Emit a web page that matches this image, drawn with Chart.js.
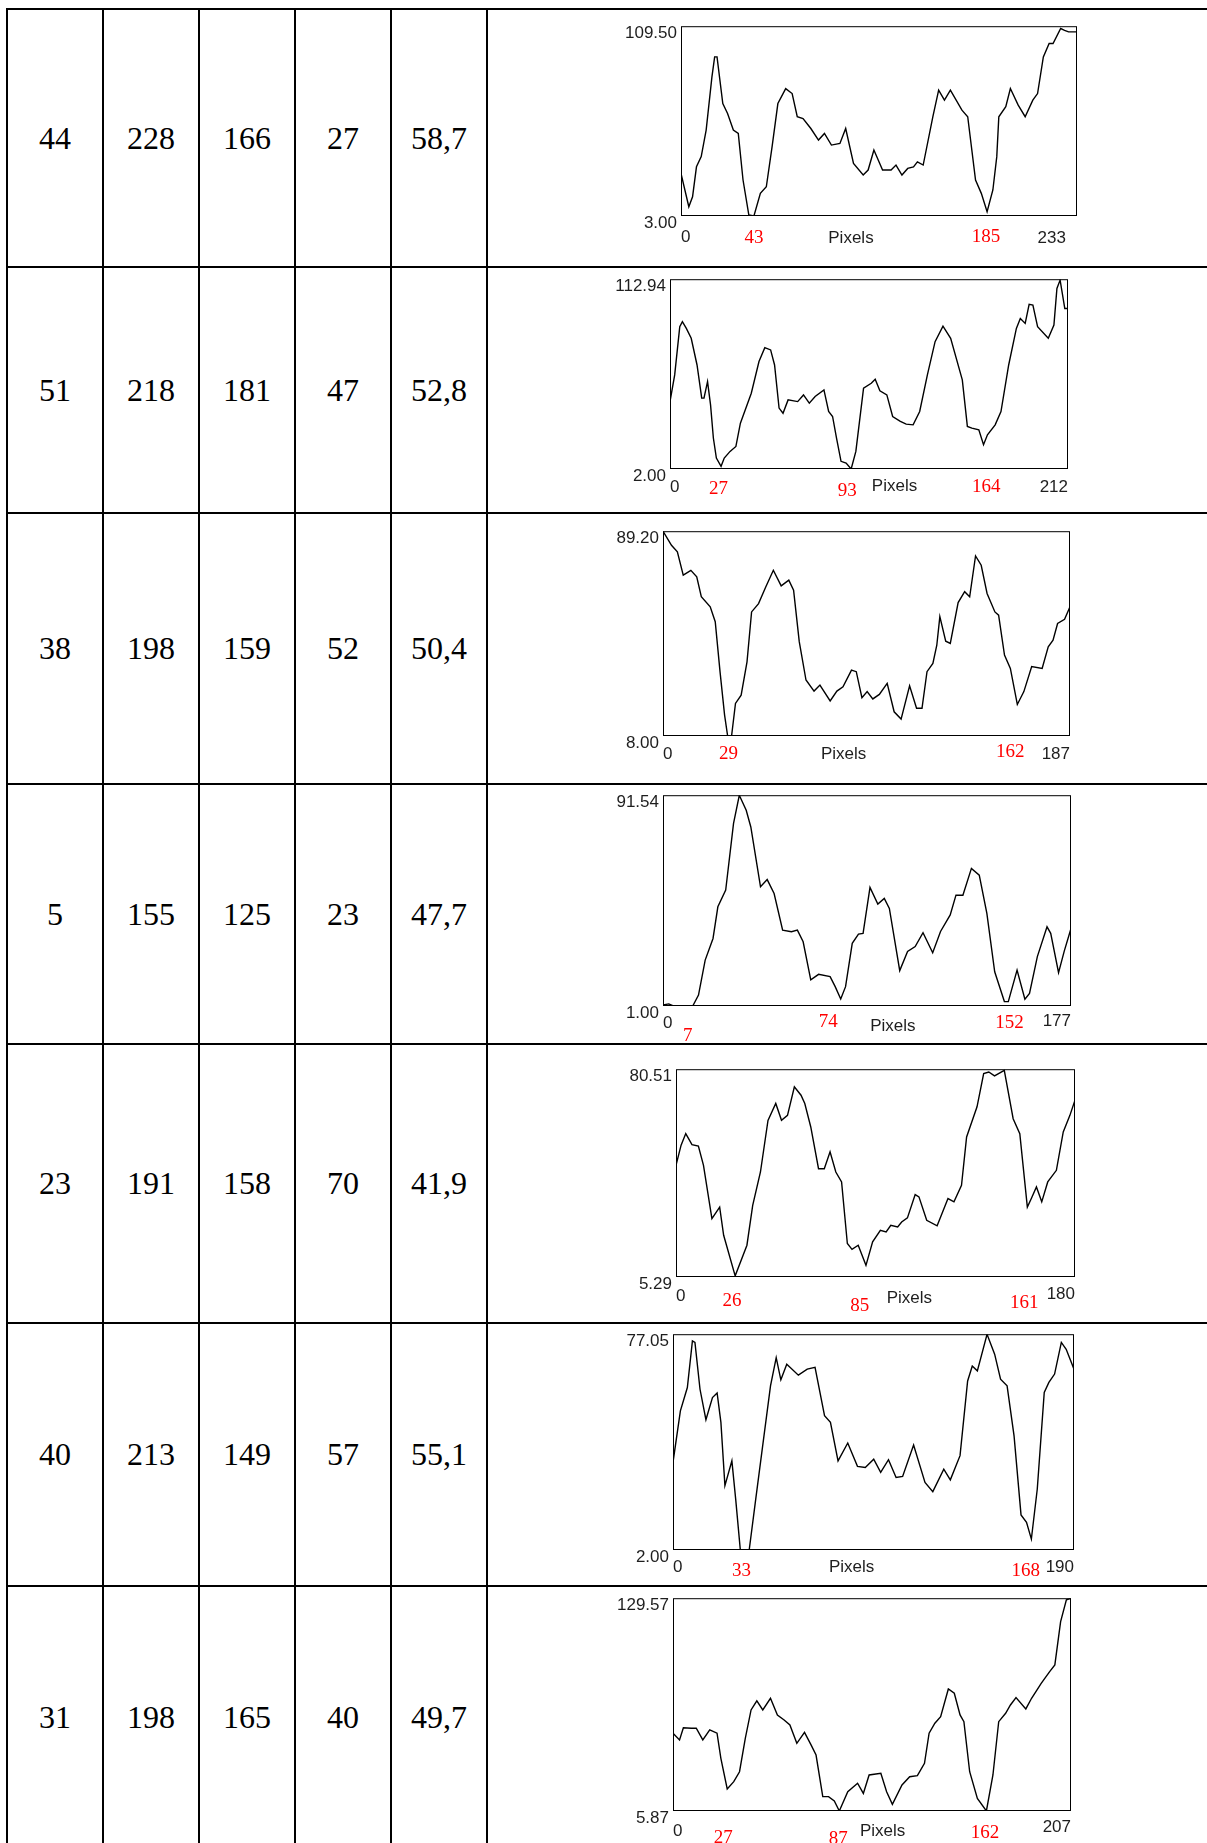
<!DOCTYPE html>
<html>
<head>
<meta charset="utf-8">
<script src="https://cdn.jsdelivr.net/npm/chart.js@4.4.1/dist/chart.umd.min.js"></script>
<style>
  html, body { margin: 0; padding: 0; background: #fff; }
  body { width: 1207px; height: 1843px; position: relative; overflow: hidden; }
  .line { position: absolute; background: #000; }
  .cell { position: absolute; display: flex; align-items: center; justify-content: center;
          font-family: "Liberation Serif", "Times New Roman", serif; font-size: 32px; color: #000; }
  canvas { position: absolute; }
</style>
</head>
<body>
<script>
// Colonnes du tableau (une valeur par ligne)
const colA = ['44', '51', '38', '5', '23', '40', '31'];
const colB = ['228', '218', '198', '155', '191', '213', '198'];
const colC = ['166', '181', '159', '125', '158', '149', '165'];
const colD = ['27', '47', '52', '23', '70', '57', '40'];
const colE = ['58,7', '52,8', '50,4', '47,7', '41,9', '55,1', '49,7'];

// Bornes des profils
const yMin = [3.00, 2.00, 8.00, 1.00, 5.29, 2.00, 5.87];
const yMax = [109.50, 112.94, 89.20, 91.54, 80.51, 77.05, 129.57];
const xMax = [233, 212, 187, 177, 180, 190, 207];

// Étiquettes de l'axe x : texte et position (en pixels du profil)
const tickText = [
  ['0', '43', 'Pixels', '185', '233'],
  ['0', '27', '93', 'Pixels', '164', '212'],
  ['0', '29', 'Pixels', '162', '187'],
  ['0', '7', '74', 'Pixels', '152', '177'],
  ['0', '26', '85', 'Pixels', '161', '180'],
  ['0', '33', 'Pixels', '168', '190'],
  ['0', '27', '87', 'Pixels', '162', '207']
];
const tickPos = [
  [0, 42.9, 100, 179.4, 226.5],
  [0, 25.8, 94.4, 119.6, 168.5, 212],
  [0, 30.1, 83, 159.6, 187],
  [0, 10.7, 71.7, 99.7, 150.3, 177],
  [0, 25.3, 82.9, 105.3, 157.1, 180],
  [0, 32.4, 84.6, 167.1, 190],
  [0, 26.2, 85.9, 109, 162.3, 207]
];

// Profils d'intensité
const prof1X = [0, 4.6, 6.8, 9.1, 11.9, 14.8, 18.2, 19.8, 21.2, 24.6, 27.4, 30.8, 33.7, 36.5, 39.9, 42.9, 46.7, 50.2, 53.6, 57, 61.6, 65.4, 68.4, 71.8, 76.4, 80.9, 84.4, 88.5, 93.5, 96.9, 101.5, 107.2, 110.1, 113.5, 118.6, 123.6, 126.5, 130, 133.4, 136.8, 139.1, 142.5, 148.2, 151.6, 155, 158.5, 165.3, 168.7, 173.3, 176.7, 180.1, 183.5, 185.8, 187, 191.1, 193.8, 198.4, 202.5, 207, 209.8, 213.2, 216.6, 218.9, 223.4, 225.7, 228, 233];
const prof1Y = [26.9, 8.2, 13.8, 30.6, 36.3, 51.2, 81.1, 92.3, 92.3, 66.1, 60.5, 51.2, 49.3, 23.2, 3.6, 3, 15.7, 19.4, 41.9, 66.1, 74.5, 71.7, 58.7, 57.7, 52.1, 45.6, 49.3, 42.8, 43.7, 52.1, 32.5, 26, 28.8, 40, 28.8, 28.8, 31.6, 26, 29.7, 30.6, 33.4, 31.6, 58.7, 73.6, 68, 73.6, 62.4, 58.7, 23.2, 15.7, 5.4, 17.6, 36.3, 58.7, 64.3, 74.5, 65.2, 58.7, 68, 71.7, 92.3, 99.8, 99.8, 108.2, 107.2, 106.3, 106.3];

const prof2X = [0, 2.5, 5.2, 6.6, 8.7, 11.3, 14.4, 16.9, 18.1, 20, 21.6, 23.1, 24.7, 27.2, 28.9, 32, 35.1, 37.5, 43.3, 47.4, 50.5, 53.6, 55.7, 58.1, 60.2, 62.9, 68, 71.1, 74.2, 77.3, 82, 84.5, 86.6, 88.7, 91.1, 93.8, 96.5, 99, 103.1, 107.2, 109.3, 111.8, 115.5, 118.6, 122.7, 125.8, 129.5, 133, 137.1, 141.2, 145.4, 149.5, 155.7, 158.4, 160.8, 164.5, 167, 169.1, 173.2, 176.3, 180.4, 184.5, 186.6, 189.2, 191.3, 193.3, 195.8, 201.5, 204.5, 206.1, 207.8, 210.3, 212];
const prof2Y = [41.4, 57, 85.2, 88.1, 84.2, 78.4, 62.8, 43.4, 43.4, 53.1, 39.5, 20.1, 8.4, 3.6, 8.4, 12.3, 15.2, 28.8, 46.3, 64.8, 72.9, 71.6, 62.8, 37.6, 34.6, 42.4, 41.4, 45.3, 40.5, 44.4, 48.2, 35.6, 32.7, 20.1, 6.5, 5.5, 2, 12.3, 49.2, 52.1, 54.5, 47.7, 45.3, 32.7, 29.8, 28.2, 27.8, 35.6, 57, 76.4, 85.5, 78.4, 54.1, 26.9, 25.9, 24.9, 16.2, 22, 27.8, 35.6, 62.8, 84.2, 90, 87.1, 98.2, 97.8, 85.2, 78.4, 86.1, 107.5, 112.4, 95.8, 95.8];

const prof3X = [0, 3.9, 6.6, 9.3, 12.8, 15.5, 17.6, 21.7, 24, 26.2, 28.3, 29.7, 31.5, 33.3, 35.9, 38.6, 40.7, 43.9, 47.2, 50.7, 54.3, 57.8, 60, 62.6, 65.7, 69.4, 72.1, 76.8, 79.9, 82.7, 86.6, 88.8, 91.4, 93.8, 96.4, 99.4, 103, 106.2, 109.4, 113.3, 116.5, 119, 121.3, 124, 125.8, 127.2, 129.9, 132, 135.6, 138.6, 140.9, 143.6, 146.2, 148.9, 152.5, 154.2, 156.9, 159.6, 162.8, 165.8, 169.4, 174.2, 177, 179.2, 181.3, 184.5, 187];
const prof3Y = [89.2, 83.6, 81, 71.8, 73.7, 71.1, 63.2, 59.2, 53.3, 33.5, 16.3, 8, 8, 20.9, 24.2, 37.4, 57.2, 60.5, 67.1, 73.7, 67.5, 69.8, 65.8, 45.4, 30.2, 25.8, 28.2, 21.9, 25.8, 27.5, 34.1, 33.5, 23.2, 25.6, 22.7, 24.5, 28.9, 17.6, 14.7, 27.9, 19, 19, 33.5, 36.8, 44, 55.3, 45.6, 44.7, 60.9, 65.2, 63.2, 79.4, 75.7, 64.5, 57.2, 55.9, 40.1, 34.8, 20.5, 25.6, 35.5, 34.8, 43.4, 46, 52.6, 54.3, 59.2];

const prof4X = [0, 2.5, 4.5, 7.9, 12.9, 15.4, 18.3, 21.7, 23.8, 27.2, 30.6, 33.1, 36.1, 38.1, 42.3, 45.2, 48.2, 51.9, 55.7, 58.3, 60.8, 64.1, 67.5, 72.5, 74.7, 77.1, 79.2, 82.1, 84.8, 86.8, 89.8, 93.2, 96, 98.2, 102.7, 106.1, 109.4, 112.8, 117, 120.4, 124.6, 127.1, 130.1, 133.8, 137.2, 140.5, 143.9, 148.1, 149.8, 153.6, 157, 159, 162.4, 166.6, 168.2, 171.6, 174.1, 177];
const prof4Y = [1.4, 1.9, 1, 1, 1, 5.7, 20.7, 30, 43.6, 50.8, 79.4, 91.5, 85.1, 77.9, 52.2, 55.3, 49.3, 33.6, 32.9, 33.6, 28.6, 12.2, 14.6, 13.6, 9.3, 4, 9.3, 27.9, 31.9, 32.2, 51.9, 44.8, 47.2, 42.9, 16.2, 24.4, 26.5, 32.5, 23.9, 33, 40.1, 48.6, 48.6, 60.1, 57.2, 40.8, 15.7, 2.9, 2.9, 16.4, 3.9, 6.4, 22.2, 35, 32.2, 15.3, 24.7, 34.3];

const prof5X = [0, 2.3, 4.4, 7.2, 10.1, 12.4, 16.2, 19.7, 21.5, 26.7, 32, 34.6, 38.1, 41.5, 45, 47.6, 50.3, 53.4, 56.4, 58.1, 60.8, 64.3, 66.9, 69.5, 72.1, 74.7, 77.3, 79.4, 82.2, 85.7, 88.7, 92.2, 94.8, 96.9, 100, 101.8, 104.4, 107.9, 109.6, 113.1, 117.8, 122.7, 125.4, 128.8, 131.1, 135.8, 138.8, 141.1, 143.7, 148.1, 152.1, 155.1, 158.5, 160.3, 162.6, 165, 167.7, 171.6, 174.7, 177.7, 180];
const prof5Y = [45.7, 53, 57.2, 53.2, 52.7, 45.7, 26.4, 30.6, 20.4, 5.7, 16.8, 31.2, 43.3, 62, 68.1, 62, 63.8, 74.1, 71.1, 68.1, 59.6, 44.5, 44.5, 50.6, 43.3, 39.7, 17.4, 15.3, 16.8, 9.5, 18, 22.2, 21.6, 24, 23.4, 25.2, 26.7, 35.1, 34.3, 25.8, 23.8, 33.7, 32.5, 38.5, 56, 66.9, 78.9, 79.5, 78.1, 80.1, 62.6, 57.2, 30.6, 33.7, 37.9, 32.5, 39.7, 43.9, 57.8, 63.8, 69.3];

const prof6X = [0, 3.5, 6.8, 9.2, 10.4, 12.8, 15.6, 18.7, 20.9, 22.7, 24.6, 27.9, 29.7, 31.9, 36.1, 39.2, 42.5, 46.2, 48.9, 51.1, 53.9, 59.4, 63.6, 67.3, 71.8, 74.6, 78.2, 82.8, 87.4, 91.1, 95.1, 98.4, 102.1, 105.7, 108.8, 114, 119.4, 123.1, 128.3, 131.4, 136, 139.6, 141.8, 144.2, 148.8, 152.4, 155.2, 158.3, 161.6, 164.9, 167.5, 169.8, 172.6, 175.9, 178.1, 180.8, 184, 186.3, 190];
const prof6Y = [32.5, 50.4, 58.5, 74.7, 74.2, 57.9, 47.3, 55, 56.6, 46.4, 24.4, 33, 19.7, 2, 2, 19.7, 38.3, 59.1, 68.9, 61.2, 66.6, 62.8, 64.9, 65.5, 48.7, 46.4, 33, 39.2, 31.1, 30.7, 33.6, 29, 33.4, 27.2, 27.6, 38.5, 25.5, 22.3, 30.1, 26.4, 34.8, 60.8, 66, 64.3, 77, 70.1, 61.4, 59.1, 41.7, 14.2, 11.6, 5.8, 23.2, 56.8, 60.3, 63.2, 74.2, 71.8, 64.9];

const prof7X = [0, 3.4, 5.4, 9.5, 12.1, 15.5, 19.1, 22.9, 24.9, 28.2, 31.6, 34.6, 37.6, 40.6, 43.6, 46.7, 50.7, 54.3, 57.8, 60.8, 64.4, 68.4, 71.8, 74.4, 77.9, 80.9, 83.9, 86.5, 90.9, 96, 99, 102, 108.1, 111.1, 114.1, 119.1, 123.1, 127.1, 130.8, 133.2, 136.2, 139.2, 143.2, 146.3, 149.3, 151.3, 154.3, 158.3, 163, 166.4, 169.4, 173, 175.5, 178.4, 183.5, 186.5, 191.5, 195.9, 198.6, 201.6, 204.6, 207];
const prof7Y = [51.1, 47.2, 54.3, 54, 54, 47.2, 53, 51.1, 36.5, 18.7, 22.9, 28.7, 48.1, 64.6, 69.9, 64.6, 71.4, 61.7, 58.8, 55.9, 45.2, 51.6, 44.3, 38.4, 14.2, 14.2, 11.7, 5.9, 17.1, 22, 16.1, 26.8, 27.8, 17.1, 9.7, 21, 25.8, 26.4, 33.6, 51.1, 56.9, 60.7, 76.8, 74.3, 61.7, 57.8, 28.7, 13.2, 5.9, 26.8, 57.8, 62.7, 67.5, 71.8, 65.2, 71.4, 80.1, 86.9, 90.8, 116, 128.6, 129.6];

const profX = [prof1X, prof2X, prof3X, prof4X, prof5X, prof6X, prof7X];
const profY = [prof1Y, prof2Y, prof3Y, prof4Y, prof5Y, prof6Y, prof7Y];

// Mise en page (px)
const colLines = [7, 103, 199, 295, 391, 487];
const rowLines = [9, 267, 513, 784, 1044, 1323, 1586];
const tableEnd = 1848;
// cadre de chaque graphique : gauche, haut, largeur, hauteur
const plotBox = [
  [681, 26, 396, 190],
  [670, 279, 398, 190],
  [663, 531, 407, 205],
  [663, 795, 408, 211],
  [676, 1069, 399, 208],
  [673, 1334, 401, 216],
  [673, 1598, 398, 213]
];
// décalage vertical de chaque étiquette x sous le cadre
const tickGap = [
  [15.7, 15.7, 16.7, 14.7, 16.7],
  [12.3, 14, 15.7, 11.7, 11.7, 12.3],
  [12.3, 12.3, 12.3, 9.7, 12.3],
  [11.3, 24, 9.7, 14.7, 11.3, 9.7],
  [13.3, 18.3, 23.3, 15, 20, 11.7],
  [11.3, 14.7, 11.3, 14.7, 11.3],
  [14, 20.7, 22.3, 14.7, 15.7, 10]
];

const SANS = '"Liberation Sans", Arial, sans-serif';
const SERIF = '"Liberation Serif", "Times New Roman", serif';

function addLine(l, t, w, h) {
  const d = document.createElement('div');
  d.className = 'line';
  d.style.cssText = `left:${l}px;top:${t}px;width:${w}px;height:${h}px`;
  document.body.appendChild(d);
}

// Grille du tableau
colLines.forEach(x => addLine(x - 1, rowLines[0] - 1, 2, tableEnd));
rowLines.forEach(y => addLine(colLines[0] - 1, y - 1, 1300, 2));

// Texte des cellules
const cols = [colA, colB, colC, colD, colE];
cols.forEach((col, c) => {
  col.forEach((txt, r) => {
    const top = rowLines[r];
    const bottom = r + 1 < rowLines.length ? rowLines[r + 1] : tableEnd;
    const d = document.createElement('div');
    d.className = 'cell';
    d.style.cssText = `left:${colLines[c]}px;top:${top}px;width:${colLines[c + 1] - colLines[c]}px;height:${bottom - top}px`;
    d.textContent = txt;
    document.body.appendChild(d);
  });
});

// Cadre noir autour de la zone de tracé
const frameBox = {
  id: 'frameBox',
  afterDatasetsDraw(chart) {
    const a = chart.chartArea;
    const ctx = chart.ctx;
    ctx.save();
    ctx.strokeStyle = '#000';
    ctx.lineWidth = 1;
    ctx.strokeRect(a.left + 0.5, a.top + 0.5, a.right - a.left - 1, a.bottom - a.top - 1);
    ctx.restore();
  }
};

const PAD_L = 70, PAD_T = 14, PAD_R = 12, AXIS_H = 45;

function isRed(i, k) {
  const t = tickText[i][k];
  return k > 0 && k < tickText[i].length - 1 && t !== 'Pixels';
}

function makeProfile(i) {
  const [L, T, W, H] = plotBox[i];
  const canvas = document.createElement('canvas');
  const cw = PAD_L + W + PAD_R, ch = PAD_T + H + AXIS_H;
  canvas.width = cw; canvas.height = ch;
  canvas.style.cssText = `left:${L - PAD_L}px;top:${T - PAD_T}px;width:${cw}px;height:${ch}px`;
  document.body.appendChild(canvas);

  new Chart(canvas.getContext('2d'), {
    type: 'line',
    data: {
      datasets: [{
        data: profX[i].map((x, k) => ({ x: x, y: profY[i][k] })),
        borderColor: '#000',
        borderWidth: 1.4,
        pointRadius: 0,
        tension: 0,
        fill: false
      }]
    },
    options: {
      responsive: false,
      animation: false,
      events: [],
      layout: { padding: { top: PAD_T, right: PAD_R, left: 0, bottom: 0 }, autoPadding: false },
      plugins: { legend: { display: false }, tooltip: { enabled: false } },
      scales: {
        x: {
          type: 'linear',
          min: 0,
          max: xMax[i],
          grid: { display: false, drawTicks: false },
          border: { display: false },
          afterBuildTicks: s => { s.ticks = tickPos[i].map(v => ({ value: v })); },
          afterFit: s => { s.height = AXIS_H; },
          ticks: {
            autoSkip: false,
            maxRotation: 0,
            minRotation: 0,
            align: 'inner',
            padding: 6,
            callback: (v, k) => tickText[i][k],
            color: c => isRed(i, c.index) ? '#ff0000' : '#1e1e1e',
            font: c => {
              const red = isRed(i, c.index);
              return {
                family: red ? SERIF : SANS,
                size: red ? 19 : 17,
                lineHeight: (2 * tickGap[i][c.index]) + 'px'
              };
            }
          }
        },
        y: {
          type: 'linear',
          min: yMin[i],
          max: yMax[i],
          grid: { display: false, drawTicks: false },
          border: { display: false },
          afterBuildTicks: s => { s.ticks = [{ value: yMin[i] }, { value: yMax[i] }]; },
          afterFit: s => { s.width = PAD_L; },
          ticks: {
            padding: 4,
            labelOffset: 7,
            color: '#1e1e1e',
            font: { family: SANS, size: 17 },
            callback: v => v.toFixed(2)
          }
        }
      }
    },
    plugins: [frameBox]
  });
}

for (let i = 0; i < plotBox.length; i++) makeProfile(i);
</script>
</body>
</html>
